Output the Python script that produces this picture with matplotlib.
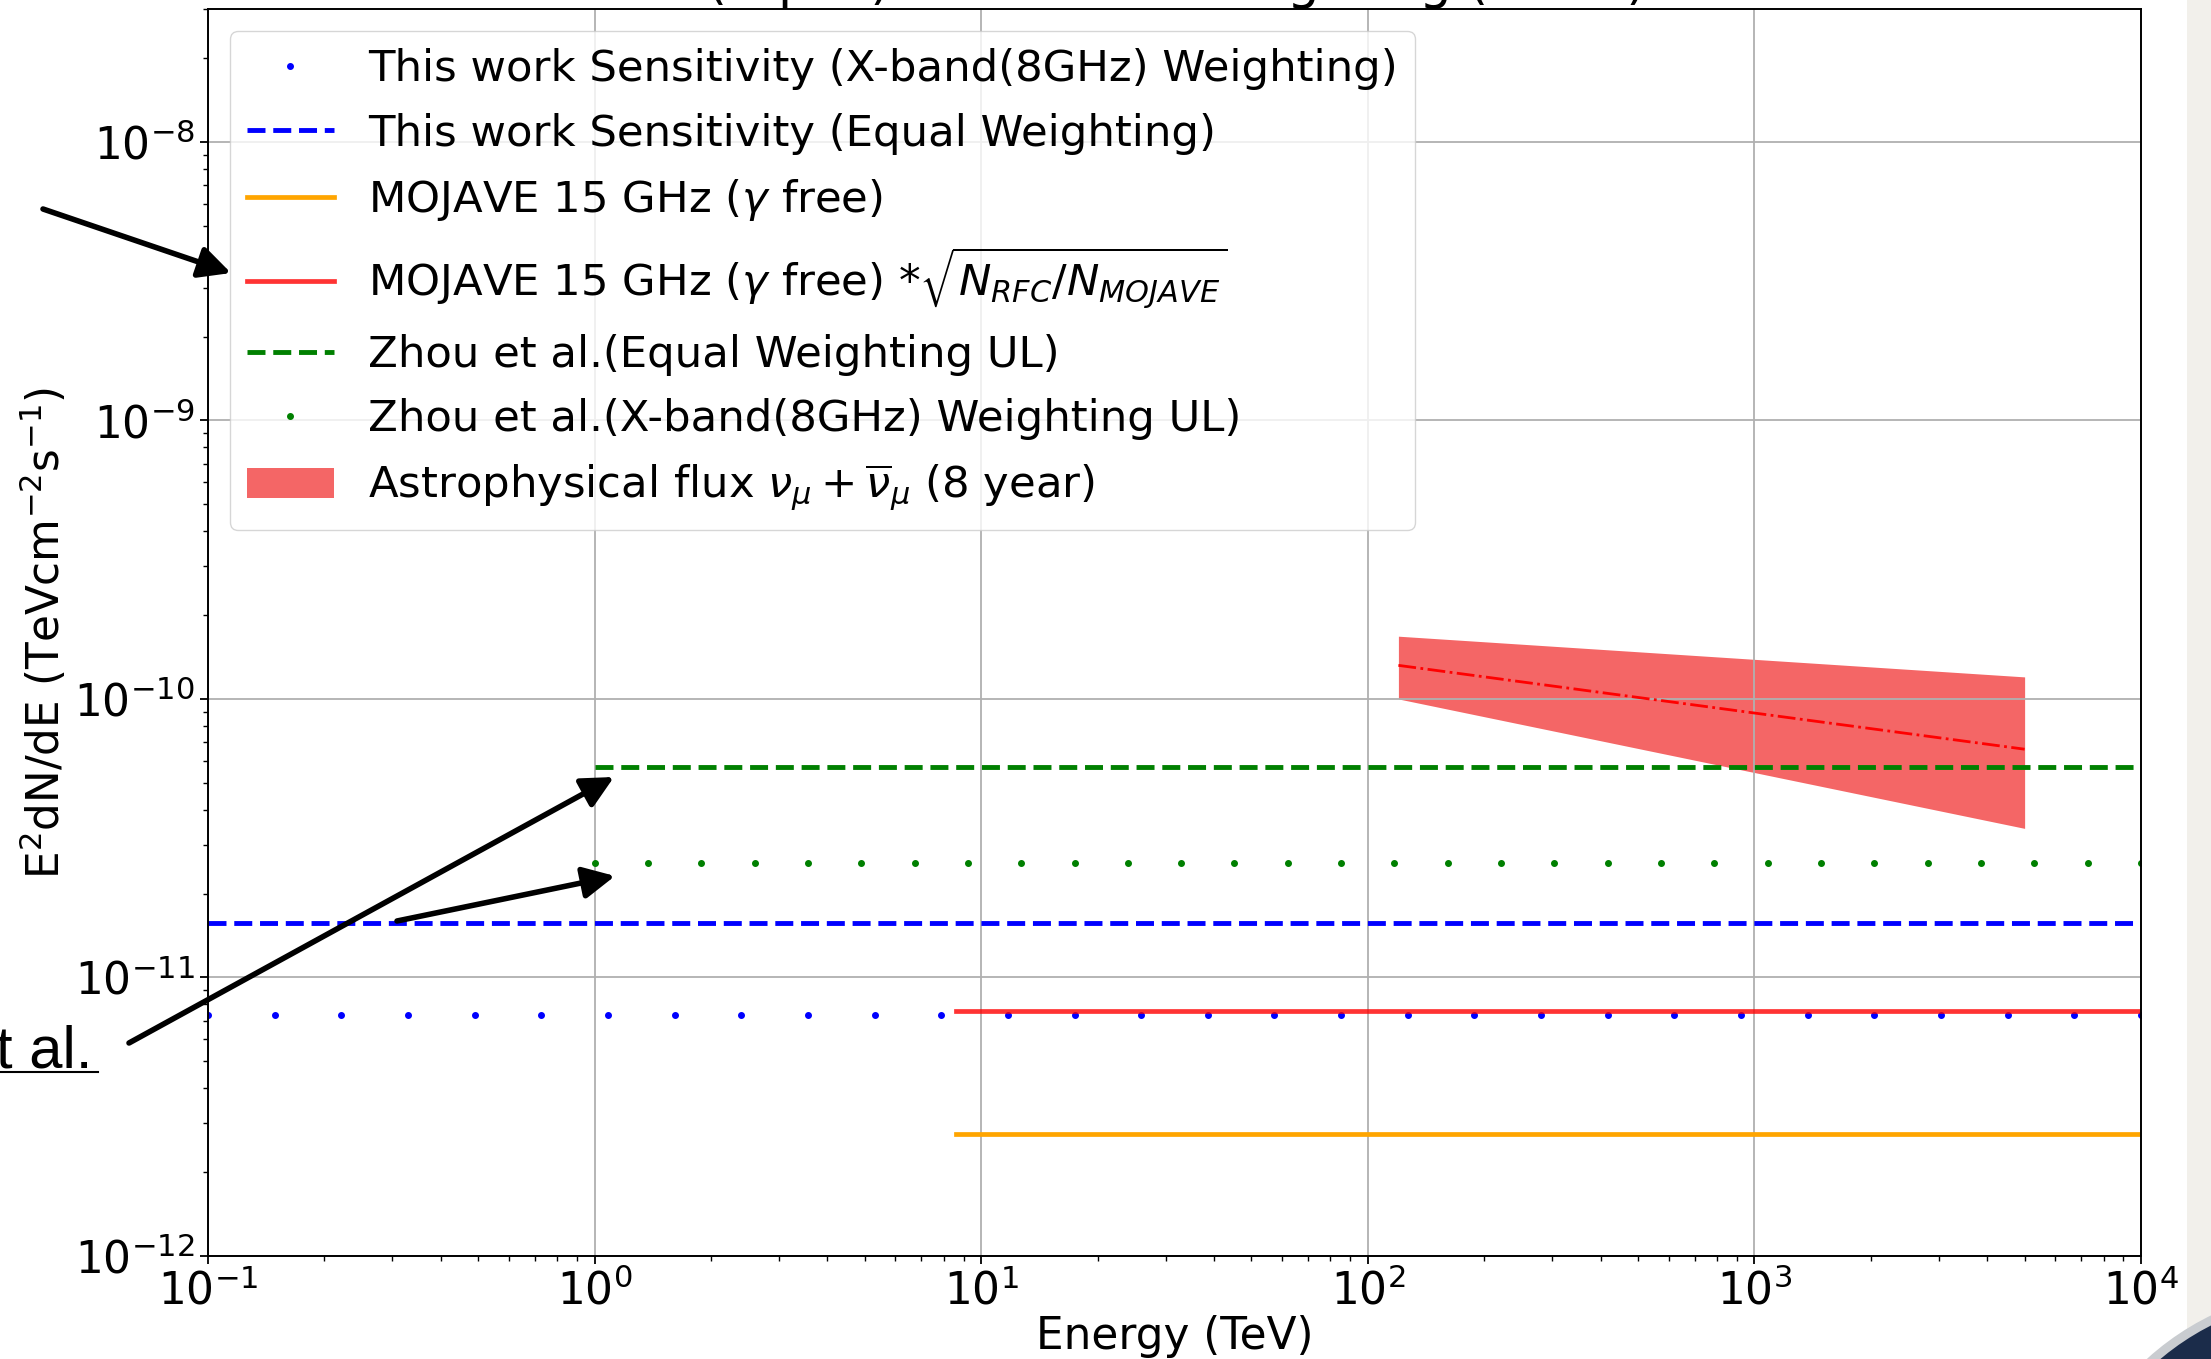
import numpy as np
import matplotlib.pyplot as plt
from matplotlib.patches import Rectangle, Circle
from matplotlib.lines import Line2D

# energy grids (TeV) the flat sensitivities were sampled on
e_this = np.logspace(-1, 4, 30)
e_zhou = np.logspace(0, 4, 30)
e_this_line = [0.1, 1e4]
e_zhou_line = [1.0, 1e4]
e_mojave = [8.6, 1e4]

# E^2 dN/dE levels (TeV cm^-2 s^-1)
this_xband = 7.33e-12
this_equal = 1.57e-11
mojave = 2.75e-12
mojave_scaled = 7.6e-12
zhou_equal = 5.68e-11
zhou_xband = 2.58e-11

# IceCube 8-year numu astrophysical flux
astro_e = [120, 5000]
astro_best = [1.32e-10, 6.6e-11]
astro_low = [1.0e-10, 3.43e-11]
astro_high = [1.68e-10, 1.2e-10]

plt.rcParams['font.size'] = 31.5
plt.rcParams['axes.linewidth'] = 1.4

W, H = 2211, 1359
fig = plt.figure(figsize=(W / 100, H / 100), dpi=100)
ax = fig.add_axes([208 / W, 1 - 1256 / H, (2141 - 208) / W, (1256 - 9) / H])

ax.plot(e_this, [this_xband] * len(e_this), 'b.', ms=8,
        label='This work Sensitivity (X-band(8GHz) Weighting)')
ax.plot(e_this_line, [this_equal] * 2, 'b--', lw=3.5,
        label='This work Sensitivity (Equal Weighting)')
ax.plot(e_mojave, [mojave] * 2, color='orange', lw=3.4,
        label=r'MOJAVE 15 GHz ($\gamma$ free)')
ax.plot(e_mojave, [mojave_scaled] * 2, color='red', alpha=0.8, lw=3.4,
        label=r'MOJAVE 15 GHz ($\gamma$ free) *$\sqrt{N_{RFC}/N_{MOJAVE}}$')
ax.plot(e_zhou_line, [zhou_equal] * 2, 'g--', lw=3.5,
        label='Zhou et al.(Equal Weighting UL)')
ax.plot(e_zhou, [zhou_xband] * len(e_zhou), 'g.', ms=8,
        label='Zhou et al.(X-band(8GHz) Weighting UL)')
ax.fill_between(astro_e, astro_low, astro_high, color='#ee0000', alpha=0.6, lw=0,
                label=r'Astrophysical flux $\nu_{\mu}+\overline{\nu}_{\mu}$ (8 year)')
ax.plot(astro_e, astro_best, 'r-.', lw=2)

ax.set_xscale('log')
ax.set_yscale('log')
ax.set_xlim(0.1, 1e4)
ax.set_ylim(1e-12, 3e-8)
ax.grid(True, color='#b0b0b0', lw=1.3)
ax.tick_params(which='major', length=6, width=1.3)
ax.tick_params(which='minor', length=3.5, width=1.0)
ax.set_xlabel('Energy (TeV)', fontsize=31.5, labelpad=1)
ax.set_ylabel(r'E$^2$dN/dE (TeVcm$^{-2}$s$^{-1}$)', fontsize=31.5)
ax.legend(loc='upper left', fontsize=31.2, labelspacing=0.52)

# slide remnants around the cropped figure
fig.text(707 / W, 1 + 2 / H, '(Equal) vs. X-band Weighting (8GHz)', fontsize=37,
         va='baseline', ha='left')
fig.text(-0.002, 1 - 1067 / H, 't al.', fontsize=43, family='Liberation Sans',
         va='baseline', ha='left')
fig.add_artist(Line2D([0, 98 / W], [1 - 1072 / H] * 2, transform=fig.transFigure,
                      color='k', lw=1.5))

arrows = [((43, 209), (231, 273)), ((129, 1043), (614, 777)), ((397, 921), (615, 876))]
for (x0, y0), (x1, y1) in arrows:
    ax.annotate('', xy=(x1, H - y1), xycoords='figure pixels',
                xytext=(x0, H - y0), textcoords='figure pixels',
                arrowprops=dict(arrowstyle='-|>,head_length=0.6,head_width=0.3',
                                mutation_scale=32, lw=4, color='k',
                                shrinkA=0, shrinkB=0),
                annotation_clip=False)

fig.add_artist(Rectangle((2187 / W, 0), 1, 1, transform=fig.transFigure,
                         color='#f2f0eb', lw=0))
fig.add_artist(Circle((23.3, -2.01), 2.72, transform=fig.dpi_scale_trans,
                      color='#c9ccd0', lw=0))
fig.add_artist(Circle((23.3, -2.01), 2.63, transform=fig.dpi_scale_trans,
                      color='#1b2c4a', lw=0))

fig.savefig('out.png', dpi=100)
